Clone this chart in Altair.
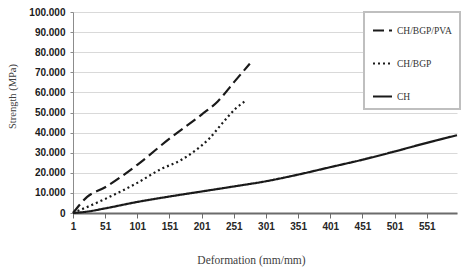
import altair as alt
import pandas as pd

# CH/BGP/PVA (dashed)
pva_x = [1, 23, 51, 101, 151, 201, 226, 251, 276]
pva_y = [0, 8, 12.8, 24, 37, 49, 55.5, 65, 74.3]
# CH/BGP (dotted)
bgp_x = [1, 51, 101, 138, 167, 192, 213, 233, 254, 270]
bgp_y = [0, 7, 15, 21.9, 26, 31.3, 37.1, 44.6, 52, 56]
# CH (solid)
ch_x = [1, 21, 51, 101, 151, 201, 251, 301, 351, 401, 451, 501, 551, 598]
ch_y = [0, 0.6, 2.3, 5.5, 8.2, 10.7, 13.2, 15.8, 19.1, 22.8, 26.5, 30.6, 34.9, 38.7]

series_names = ["CH/BGP/PVA", "CH/BGP", "CH"]
x_ticks = [1, 51, 101, 151, 201, 251, 301, 351, 401, 451, 501, 551]
y_ticks = [0, 10, 20, 30, 40, 50, 60, 70, 80, 90, 100]

rows = []
for name, xs, ys in [("CH/BGP/PVA", pva_x, pva_y), ("CH/BGP", bgp_x, bgp_y), ("CH", ch_x, ch_y)]:
    for xv, yv in zip(xs, ys):
        rows.append({"series": name, "x": xv, "y": yv})
df = pd.DataFrame(rows)

chart = alt.Chart(df).mark_line(
    color="#1a1a1a", strokeWidth=2.2, interpolate="monotone"
).encode(
    x=alt.X("x:Q",
            scale=alt.Scale(domain=[1, 598], nice=False, zero=False),
            axis=alt.Axis(values=x_ticks, title="Deformation (mm/mm)", grid=False,
                          domainColor="#6b6b6b", domainWidth=2,
                          tickColor="#6b6b6b", tickWidth=1, tickSize=5,
                          labelFont="Liberation Sans", labelFontWeight="bold",
                          labelFontSize=10, labelColor="#262626", labelPadding=3,
                          labelFlush=False,
                          titleFont="Liberation Serif", titleFontWeight="normal",
                          titleFontSize=11.5, titleColor="#404040",
                          titleX=178, titleY=47, titleAlign="center",
                          titleBaseline="middle")),
    y=alt.Y("y:Q",
            scale=alt.Scale(domain=[0, 100], nice=False),
            axis=alt.Axis(values=y_ticks,
                          labelExpr="datum.value == 0 ? '0' : datum.value + '.000'",
                          title="Strength (MPa)", grid=True,
                          gridColor="#d9d9d9", gridWidth=1,
                          domainColor="#8c8c8c", domainWidth=1,
                          tickColor="#8c8c8c", tickSize=3,
                          labelFont="Liberation Sans", labelFontWeight="bold",
                          labelFontSize=10, labelColor="#1a1a1a", labelPadding=5,
                          labelFlush=False,
                          titleFont="Liberation Serif", titleFontWeight="normal",
                          titleFontSize=10.5, titleColor="#404040",
                          titleX=-61, titleY=84, titleAngle=-90,
                          titleAlign="center", titleBaseline="middle")),
    strokeDash=alt.StrokeDash(
        "series:N",
        scale=alt.Scale(domain=series_names, range=[[11, 5], [2, 3], [1, 0]]),
        sort=series_names,
        legend=alt.Legend(title=None, orient="none", legendX=291, legendY=0,
                          padding=8, rowPadding=18, fillColor="white",
                          strokeColor="#bfbfbf",
                          symbolType="stroke", symbolSize=361,
                          symbolStrokeColor="#1a1a1a", symbolStrokeWidth=2,
                          labelFont="Liberation Serif", labelFontSize=9.5,
                          labelColor="#333333", labelOffset=4)),
).properties(
    width=384, height=201,
    padding={"left": 73, "top": 12, "right": 17, "bottom": 56},
    autosize=alt.AutoSizeParams(type="none"),
).configure_view(stroke=None).configure_legend(strokeWidth=2)

chart.save("out.html", embed_options={"renderer": "svg", "actions": False})
